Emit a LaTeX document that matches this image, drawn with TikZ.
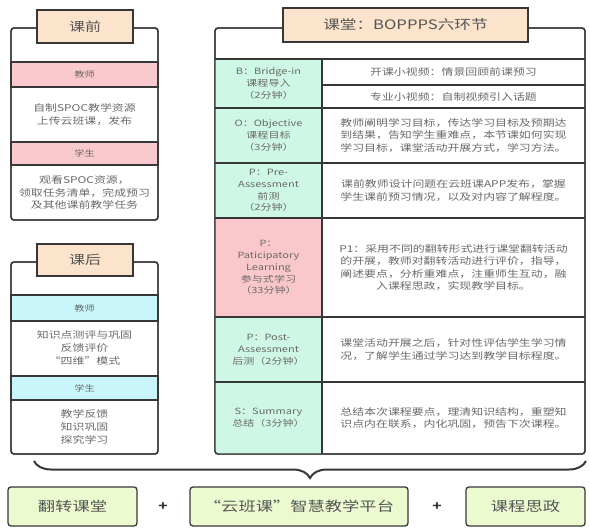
\documentclass[tikz,border=0pt]{standalone}
\usepackage{fontspec}
\setmainfont{Noto Sans CJK SC}[FakeStretch=1.28]
\usetikzlibrary{decorations.pathreplacing}
\definecolor{TabPeach}{RGB}{252,227,203}
\definecolor{BandPink}{RGB}{249,201,205}
\definecolor{BandCyan}{RGB}{200,246,250}
\definecolor{StageMint}{RGB}{206,247,229}
\definecolor{StagePink}{RGB}{250,200,202}
\definecolor{BaseLime}{RGB}{236,250,208}
\definecolor{LineDark}{RGB}{55,55,55}
\definecolor{TextGray}{RGB}{105,105,105}
\definecolor{TitleGray}{RGB}{85,85,85}

\begin{document}
\begin{tikzpicture}[x=1pt,y=-1pt,
    panel/.style={draw=LineDark,line width=1.4pt,rounded corners=3pt},
    tab/.style={draw=LineDark,line width=1.2pt,fill=TabPeach,text=TitleGray,inner sep=0pt},
    band/.style={draw=LineDark,line width=1.1pt},
    rule/.style={LineDark,line width=1.1pt},
    txt/.style={text=TextGray,align=center,font=\fontsize{9.3}{12.6}\selectfont,inner sep=0pt},
    tag/.style={text=TextGray,font=\fontsize{8}{10}\selectfont,inner sep=0pt},
    stage/.style={text=TextGray,align=center,font=\fontsize{8.6}{11.8}\selectfont,inner sep=0pt},
    base/.style={draw=LineDark,line width=1.3pt,rounded corners=3pt,fill=BaseLime,text=TitleGray,
      font=\fontsize{13.5}{15}\selectfont,minimum height=39pt}]
  \useasboundingbox[fill=white] (0,0) rectangle (590,528);

  % before class
  \filldraw[panel,fill=white] (11,28) rectangle (158,220);
  \filldraw[band,fill=BandPink] (11,62) rectangle (158,87);
  \filldraw[band,fill=BandPink] (11,142) rectangle (158,165);
  \draw[panel] (11,28) rectangle (158,220);
  \node[tab,minimum width=96pt,minimum height=33pt,font=\fontsize{12.5}{14}\selectfont] (pre-tab) at (85,26.5) {课前};
  \node[tag] (pre-teacher) at (84.5,74.5) {教师};
  \node[txt] (pre-teacher-do) at (84.5,114.5) {自制SPOC教学资源\\上传云班课，发布};
  \node[tag] (pre-student) at (84.5,153.5) {学生};
  \node[txt] (pre-student-do) at (84.5,192.5) {观看SPOC资源，\\领取任务清单，完成预习\\及其他课前教学任务};

  % after class
  \filldraw[panel,fill=white] (11,262) rectangle (158,454);
  \filldraw[band,fill=BandCyan] (11,295) rectangle (158,321);
  \filldraw[band,fill=BandCyan] (11,376) rectangle (158,400);
  \draw[panel] (11,262) rectangle (158,454);
  \node[tab,minimum width=96pt,minimum height=32pt,font=\fontsize{12.5}{14}\selectfont] (post-tab) at (85,260) {课后};
  \node[tag] (post-teacher) at (84.5,308) {教师};
  \node[txt] (post-teacher-do) at (84.5,348) {知识点测评与巩固\\反馈评价\\“四维”模式};
  \node[tag] (post-student) at (84.5,388) {学生};
  \node[txt] (post-student-do) at (84.5,427) {教学反馈\\知识巩固\\探究学习};

  % in class: BOPPPS
  \filldraw[panel,fill=white] (215,28) rectangle (585,454);
  \begin{scope}
    \clip[rounded corners=3pt] (215,28) rectangle (585,454);
    \fill[StageMint] (215,59) rectangle (322,218);
    \fill[StagePink] (215,218) rectangle (322,317);
    \fill[StageMint] (215,317) rectangle (322,454);
  \end{scope}
  \foreach \y in {59,108,163,218,317,382}
    \draw[rule] (215,\y) -- (585,\y);
  \draw[rule] (322,85) -- (585,85);
  \draw[rule] (322,59) -- (322,454);
  \draw[panel] (215,28) rectangle (585,454);
  \node[tab,minimum width=245pt,minimum height=34pt,font=\fontsize{13}{15}\selectfont] (class-tab) at (405.5,25) {课堂：BOPPPS六环节};

  \node[stage] (stage-b) at (268.5,83.5) {B：Bridge-in\\课程导入\\（2分钟）};
  \node[stage] (stage-o) at (268.5,135.5) {O：Objective\\课程目标\\（3分钟）};
  \node[stage] (stage-pre) at (268.5,190.5) {P：Pre-\\Assessment\\前测\\（2分钟）};
  \node[stage] (stage-p) at (268.5,267.5) {P：\\Paticipatory\\Learning\\参与式学习\\（33分钟）};
  \node[stage] (stage-post) at (268.5,349.5) {P：Post-\\Assessment\\后测（2分钟）};
  \node[stage] (stage-s) at (268.5,418) {S：Summary\\总结（3分钟）};

  \node[txt] (do-b1) at (453.5,72) {开课小视频：情景回顾前课预习};
  \node[txt] (do-b2) at (453.5,96.5) {专业小视频：自制视频引入话题};
  \node[txt] (do-o) at (453.5,135.5) {教师阐明学习目标，传达学习目标及预期达\\到结果，告知学生重难点，本节课如何实现\\学习目标，课堂活动开展方式，学习方法。};
  \node[txt] (do-pre) at (453.5,190.5) {课前教师设计问题在云班课APP发布，掌握\\学生课前预习情况，以及对内容了解程度。};
  \node[txt] (do-p) at (453.5,267.5) {P1：采用不同的翻转形式进行课堂翻转活动\\的开展，教师对翻转活动进行评价，指导，\\阐述要点，分析重难点，注重师生互动，融\\入课程思政，实现教学目标。};
  \node[txt] (do-post) at (453.5,349.5) {课堂活动开展之后，针对性评估学生学习情\\况，了解学生通过学习达到教学目标程度。};
  \node[txt] (do-s) at (453.5,418) {总结本次课程要点，理清知识结构，重塑知\\识点内在联系，内化巩固，预告下次课程。};

  % brace and base
  \coordinate (brace-l) at (34,461);
  \coordinate (brace-r) at (586,461);
  \draw[LineDark,line width=2pt,decorate,decoration={brace,mirror,amplitude=17pt}] (brace-l) -- (brace-r);

  \node[base,minimum width=129pt] (base-flip) at (72.5,506.5) {翻转课堂};
  \node[text=LineDark,font=\bfseries\fontsize{12}{12}\selectfont] (plus-a) at (163,507) {+};
  \node[base,minimum width=218pt] (base-cloud) at (299,506.5) {“云班课”智慧教学平台};
  \node[text=LineDark,font=\bfseries\fontsize{12}{12}\selectfont] (plus-b) at (437,507) {+};
  \node[base,minimum width=119pt] (base-ideo) at (525.5,506.5) {课程思政};
\end{tikzpicture}
\end{document}
